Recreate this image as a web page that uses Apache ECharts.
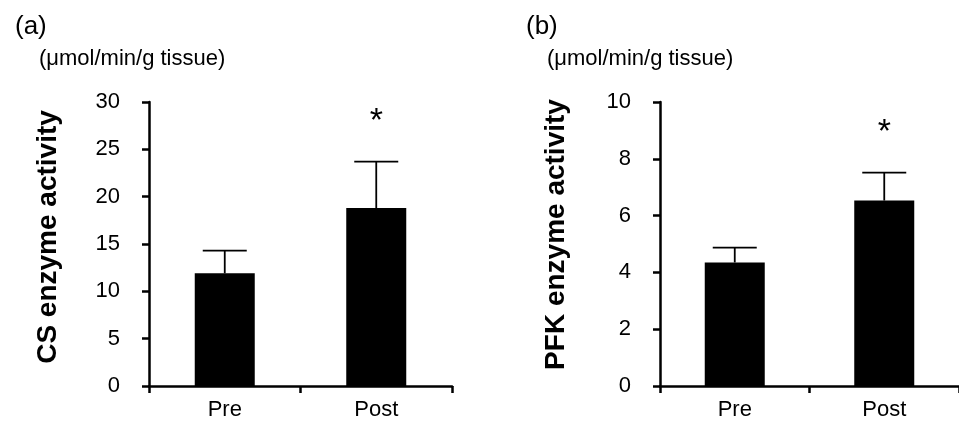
<!DOCTYPE html>
<html>
<head>
<meta charset="utf-8">
<script src="https://cdn.jsdelivr.net/npm/echarts@6/dist/echarts.min.js"></script>
<style>
html,body{margin:0;padding:0;background:#fff;}
#chart{width:959px;height:424px;}
</style>
</head>
<body>
<div id="chart"></div>
<script>
// ---- data ----
const categories = ['Pre', 'Post'];
const csMean = [11.9, 18.8];
const csSD = [2.4, 4.9];
const pfkMean = [4.35, 6.53];
const pfkSD = [0.52, 0.98];
const significant = [false, true];
const csTicks = {min: 0, max: 30, interval: 5};
const pfkTicks = {min: 0, max: 10, interval: 2};
const panelLabels = ['(a)', '(b)'];
const unitLabel = '(μmol/min/g tissue)';
const yTitles = ['CS enzyme activity', 'PFK enzyme activity'];

const FONT = '"Liberation Sans", Arial, sans-serif';
const chart = echarts.init(document.getElementById('chart'));

function errData(mean, sd) {
  return mean.map((m, i) => [i, m, sd[i], significant[i] ? 1 : 0]);
}

function renderErr(params, api) {
  const x = api.value(0), m = api.value(1), s = api.value(2), sig = api.value(3);
  const p0 = api.coord([x, m]);
  const p1 = api.coord([x, m + s]);
  const half = 22;
  const children = [
    {type: 'line', shape: {x1: p0[0], y1: p0[1], x2: p1[0], y2: p1[1]}, style: {stroke: '#000', lineWidth: 1.8}},
    {type: 'line', shape: {x1: p1[0] - half, y1: p1[1], x2: p1[0] + half, y2: p1[1]}, style: {stroke: '#000', lineWidth: 1.8}}
  ];
  if (sig) {
    children.push({type: 'text', x: p1[0], y: p1[1] - 40, style: {text: '*', fill: '#000', font: '34px ' + FONT, align: 'center', verticalAlign: 'middle'}});
  }
  return {type: 'group', children};
}

const axisLine = {show: true, lineStyle: {color: '#000', width: 2.5}};
const axisTick = {show: true, length: 7, lineStyle: {color: '#000', width: 2.5}};

function yAxis(idx, ticks, title, gap, shift) {
  return {
    type: 'value', gridIndex: idx, min: ticks.min, max: ticks.max, interval: ticks.interval,
    axisLine, axisTick, splitLine: {show: false},
    axisLabel: {color: '#000', fontSize: 22, fontFamily: FONT, margin: 29},
    name: title, nameLocation: 'middle', nameGap: gap,
    nameTextStyle: {color: '#000', fontSize: 28, fontWeight: 'bold', fontFamily: FONT, padding: [0, 0, 0, shift]}
  };
}
function xAxis(idx) {
  return {
    type: 'category', gridIndex: idx, data: categories,
    axisLine, axisTick,
    axisLabel: {color: '#000', fontSize: 22, fontFamily: FONT, margin: 13}
  };
}

chart.setOption({
  animation: false,
  backgroundColor: '#fff',
  title: [
    {text: panelLabels[0], left: 10, top: 9, textStyle: {fontSize: 26, fontWeight: 'normal', color: '#000', fontFamily: FONT}},
    {text: unitLabel, left: 34, top: 43, textStyle: {fontSize: 22, fontWeight: 'normal', color: '#000', fontFamily: FONT}},
    {text: panelLabels[1], left: 521, top: 9, textStyle: {fontSize: 26, fontWeight: 'normal', color: '#000', fontFamily: FONT}},
    {text: unitLabel, left: 542, top: 43, textStyle: {fontSize: 22, fontWeight: 'normal', color: '#000', fontFamily: FONT}}
  ],
  grid: [
    {left: 149, right: 507, top: 102, bottom: 38},
    {left: 660, right: -7, top: 102, bottom: 38}
  ],
  xAxis: [xAxis(0), xAxis(1)],
  yAxis: [yAxis(0, csTicks, yTitles[0], 87, 14), yAxis(1, pfkTicks, yTitles[1], 90, 19)],
  series: [
    {type: 'bar', xAxisIndex: 0, yAxisIndex: 0, data: csMean, barWidth: 60, itemStyle: {color: '#000'}},
    {type: 'custom', xAxisIndex: 0, yAxisIndex: 0, data: errData(csMean, csSD), renderItem: renderErr, z: 3},
    {type: 'bar', xAxisIndex: 1, yAxisIndex: 1, data: pfkMean, barWidth: 60, itemStyle: {color: '#000'}},
    {type: 'custom', xAxisIndex: 1, yAxisIndex: 1, data: errData(pfkMean, pfkSD), renderItem: renderErr, z: 3}
  ]
});
</script>
</body>
</html>
